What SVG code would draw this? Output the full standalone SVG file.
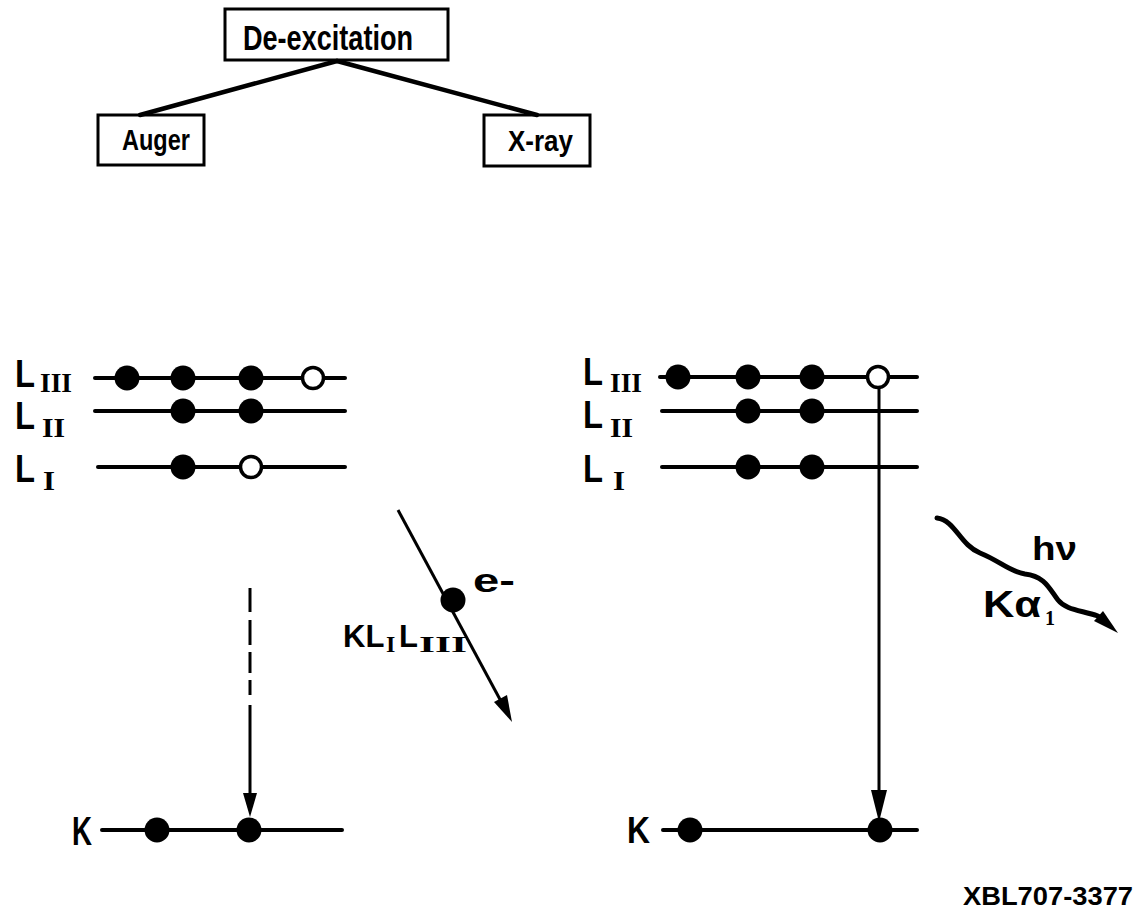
<svg xmlns="http://www.w3.org/2000/svg" width="1146" height="913" viewBox="0 0 1146 913">
  <style>
    .box { fill: #fff; stroke: #000; stroke-width: 3; }
    .lbl { font-family: "Liberation Sans", Arial, sans-serif; font-weight: bold; fill: #000; }
    .sub { font-family: "Liberation Serif", "Times New Roman", serif; font-weight: bold; fill: #000; }
    .level { stroke: #000; stroke-width: 4; stroke-linecap: round; fill: none; }
    .full { fill: #000; }
    .hole { fill: #fff; stroke: #000; stroke-width: 3.5; }
    .link { stroke: #000; stroke-width: 4.5; stroke-linecap: round; fill: none; }
    .trans { stroke: #000; stroke-width: 3; fill: none; }
  </style>

  <!-- hierarchy boxes -->
  <g id="node-deexcitation">
    <rect class="box" x="225" y="9" width="223" height="51"/>
    <text class="lbl" x="243" y="50" font-size="35" textLength="170" lengthAdjust="spacingAndGlyphs">De-excitation</text>
  </g>
  <g id="node-auger">
    <rect class="box" x="98" y="115" width="106" height="50"/>
    <text class="lbl" x="122" y="150" font-size="30" textLength="68" lengthAdjust="spacingAndGlyphs">Auger</text>
  </g>
  <g id="node-xray">
    <rect class="box" x="484" y="115" width="106" height="51"/>
    <text class="lbl" x="508" y="151" font-size="30" textLength="65" lengthAdjust="spacingAndGlyphs">X-ray</text>
  </g>

  <g id="connectors">
    <line class="link" x1="337" y1="61" x2="140" y2="115"/>
    <line class="link" x1="337" y1="61" x2="537" y2="115"/>
  </g>

  <!-- Auger side: shell levels -->
  <g id="auger-levels">
    <text class="lbl" x="15" y="387" font-size="38" font-weight="normal" textLength="20" lengthAdjust="spacingAndGlyphs">L</text>
    <text class="sub" x="40" y="392" font-size="27" textLength="32" lengthAdjust="spacingAndGlyphs">III</text>
    <text class="lbl" x="15" y="429" font-size="38" font-weight="normal" textLength="20" lengthAdjust="spacingAndGlyphs">L</text>
    <text class="sub" x="42" y="437" font-size="27" textLength="23" lengthAdjust="spacingAndGlyphs">II</text>
    <text class="lbl" x="15" y="482" font-size="38" font-weight="normal" textLength="20" lengthAdjust="spacingAndGlyphs">L</text>
    <text class="sub" x="43" y="490" font-size="27" textLength="12" lengthAdjust="spacingAndGlyphs">I</text>

    <line class="level" x1="95" y1="378" x2="345" y2="378"/>
    <line class="level" x1="95" y1="411" x2="345" y2="411"/>
    <line class="level" x1="98" y1="467" x2="345" y2="467"/>
    <circle class="full" cx="127" cy="378" r="12.5"/>
    <circle class="full" cx="183" cy="378" r="12.5"/>
    <circle class="full" cx="251" cy="378" r="12.5"/>
    <circle class="hole" cx="313" cy="378" r="10.5"/>
    <circle class="full" cx="183" cy="411" r="12.5"/>
    <circle class="full" cx="251" cy="411" r="12.5"/>
    <circle class="full" cx="183" cy="467" r="12.5"/>
    <circle class="hole" cx="251" cy="467" r="10.5"/>

    <!-- K shell -->
    <text class="lbl" x="72" y="845" font-size="40" font-weight="normal" textLength="20" lengthAdjust="spacingAndGlyphs">K</text>
    <line class="level" x1="102" y1="830" x2="342" y2="830"/>
    <circle class="full" cx="157" cy="830" r="12.5"/>
    <circle class="full" cx="249" cy="830" r="12.5"/>

    <!-- dashed transition into K hole -->
    <g class="trans">
      <line x1="250" y1="588" x2="250" y2="612"/>
      <line x1="250" y1="620" x2="250" y2="645"/>
      <line x1="250" y1="652" x2="250" y2="673"/>
      <line x1="250" y1="680" x2="250" y2="695"/>
      <line x1="250" y1="705" x2="250" y2="795"/>
    </g>
    <path d="M250,817 L243,793 L257,793 z" fill="#000"/>
  </g>

  <!-- emitted Auger electron -->
  <g id="auger-electron">
    <line class="trans" x1="398" y1="510" x2="503" y2="705"/>
    <path d="M512,722 L494,702 L507,695 z" fill="#000"/>
    <circle class="full" cx="453" cy="600" r="12.5"/>
    <text class="lbl" x="473" y="592" font-size="34" textLength="42" lengthAdjust="spacingAndGlyphs">e-</text>
    <!-- transition name: K L(I) L(III) -->
    <text class="lbl" x="343" y="647" font-size="31" font-weight="normal">KL</text>
    <text class="sub" x="386" y="652" font-size="24">I</text>
    <text class="lbl" x="399" y="647" font-size="31" font-weight="normal">L</text>
    <text class="sub" x="419" y="652" font-size="24" textLength="48" lengthAdjust="spacingAndGlyphs">III</text>
  </g>

  <!-- X-ray side: shell levels -->
  <g id="xray-levels">
    <text class="lbl" x="583" y="385" font-size="38" font-weight="normal" textLength="20" lengthAdjust="spacingAndGlyphs">L</text>
    <text class="sub" x="610" y="392" font-size="27" textLength="32" lengthAdjust="spacingAndGlyphs">III</text>
    <text class="lbl" x="583" y="428" font-size="38" font-weight="normal" textLength="20" lengthAdjust="spacingAndGlyphs">L</text>
    <text class="sub" x="610" y="437" font-size="27" textLength="23" lengthAdjust="spacingAndGlyphs">II</text>
    <text class="lbl" x="583" y="482" font-size="38" font-weight="normal" textLength="20" lengthAdjust="spacingAndGlyphs">L</text>
    <text class="sub" x="613" y="490" font-size="27" textLength="12" lengthAdjust="spacingAndGlyphs">I</text>

    <line class="level" x1="660" y1="377" x2="917" y2="377"/>
    <line class="level" x1="662" y1="411" x2="917" y2="411"/>
    <line class="level" x1="662" y1="467" x2="917" y2="467"/>
    <circle class="full" cx="678" cy="377" r="12.5"/>
    <circle class="full" cx="748" cy="377" r="12.5"/>
    <circle class="full" cx="812" cy="377" r="12.5"/>
    <circle class="full" cx="748" cy="411" r="12.5"/>
    <circle class="full" cx="812" cy="411" r="12.5"/>
    <circle class="full" cx="748" cy="467" r="12.5"/>
    <circle class="full" cx="812" cy="467" r="12.5"/>

    <!-- radiative transition L3 -> K -->
    <line class="trans" x1="879" y1="388" x2="879" y2="795"/>
    <circle class="hole" cx="878" cy="377" r="10.5"/>
    <path d="M879,822 L871,790 L887,790 z" fill="#000"/>

    <!-- K shell -->
    <text class="lbl" x="627" y="843" font-size="36" font-weight="normal" textLength="23" lengthAdjust="spacingAndGlyphs">K</text>
    <line class="level" x1="663" y1="830" x2="917" y2="830"/>
    <circle class="full" cx="690" cy="830" r="12.5"/>
    <circle class="full" cx="880" cy="830" r="12.5"/>
  </g>

  <!-- emitted photon -->
  <g id="xray-photon">
    <path d="M937,518 C955,520 960,545 980,553 C1000,561 1010,572 1025,574 C1045,576 1050,590 1058,600 C1066,610 1080,610 1098,616" fill="none" stroke="#000" stroke-width="5" stroke-linecap="round"/>
    <path d="M1118,633 L1094,621 L1103,611 z" fill="#000"/>
    <text class="lbl" x="1032" y="560" font-size="34" font-weight="normal" textLength="45" lengthAdjust="spacingAndGlyphs">hν</text>
    <text class="lbl" x="983" y="617" font-size="37" font-weight="normal" textLength="58" lengthAdjust="spacingAndGlyphs">Kα</text>
    <text class="sub" x="1045" y="625" font-size="22" textLength="10" lengthAdjust="spacingAndGlyphs">1</text>
  </g>

  <text id="caption" class="lbl" x="963" y="905" font-size="25" textLength="170" lengthAdjust="spacingAndGlyphs">XBL707-3377</text>
</svg>
